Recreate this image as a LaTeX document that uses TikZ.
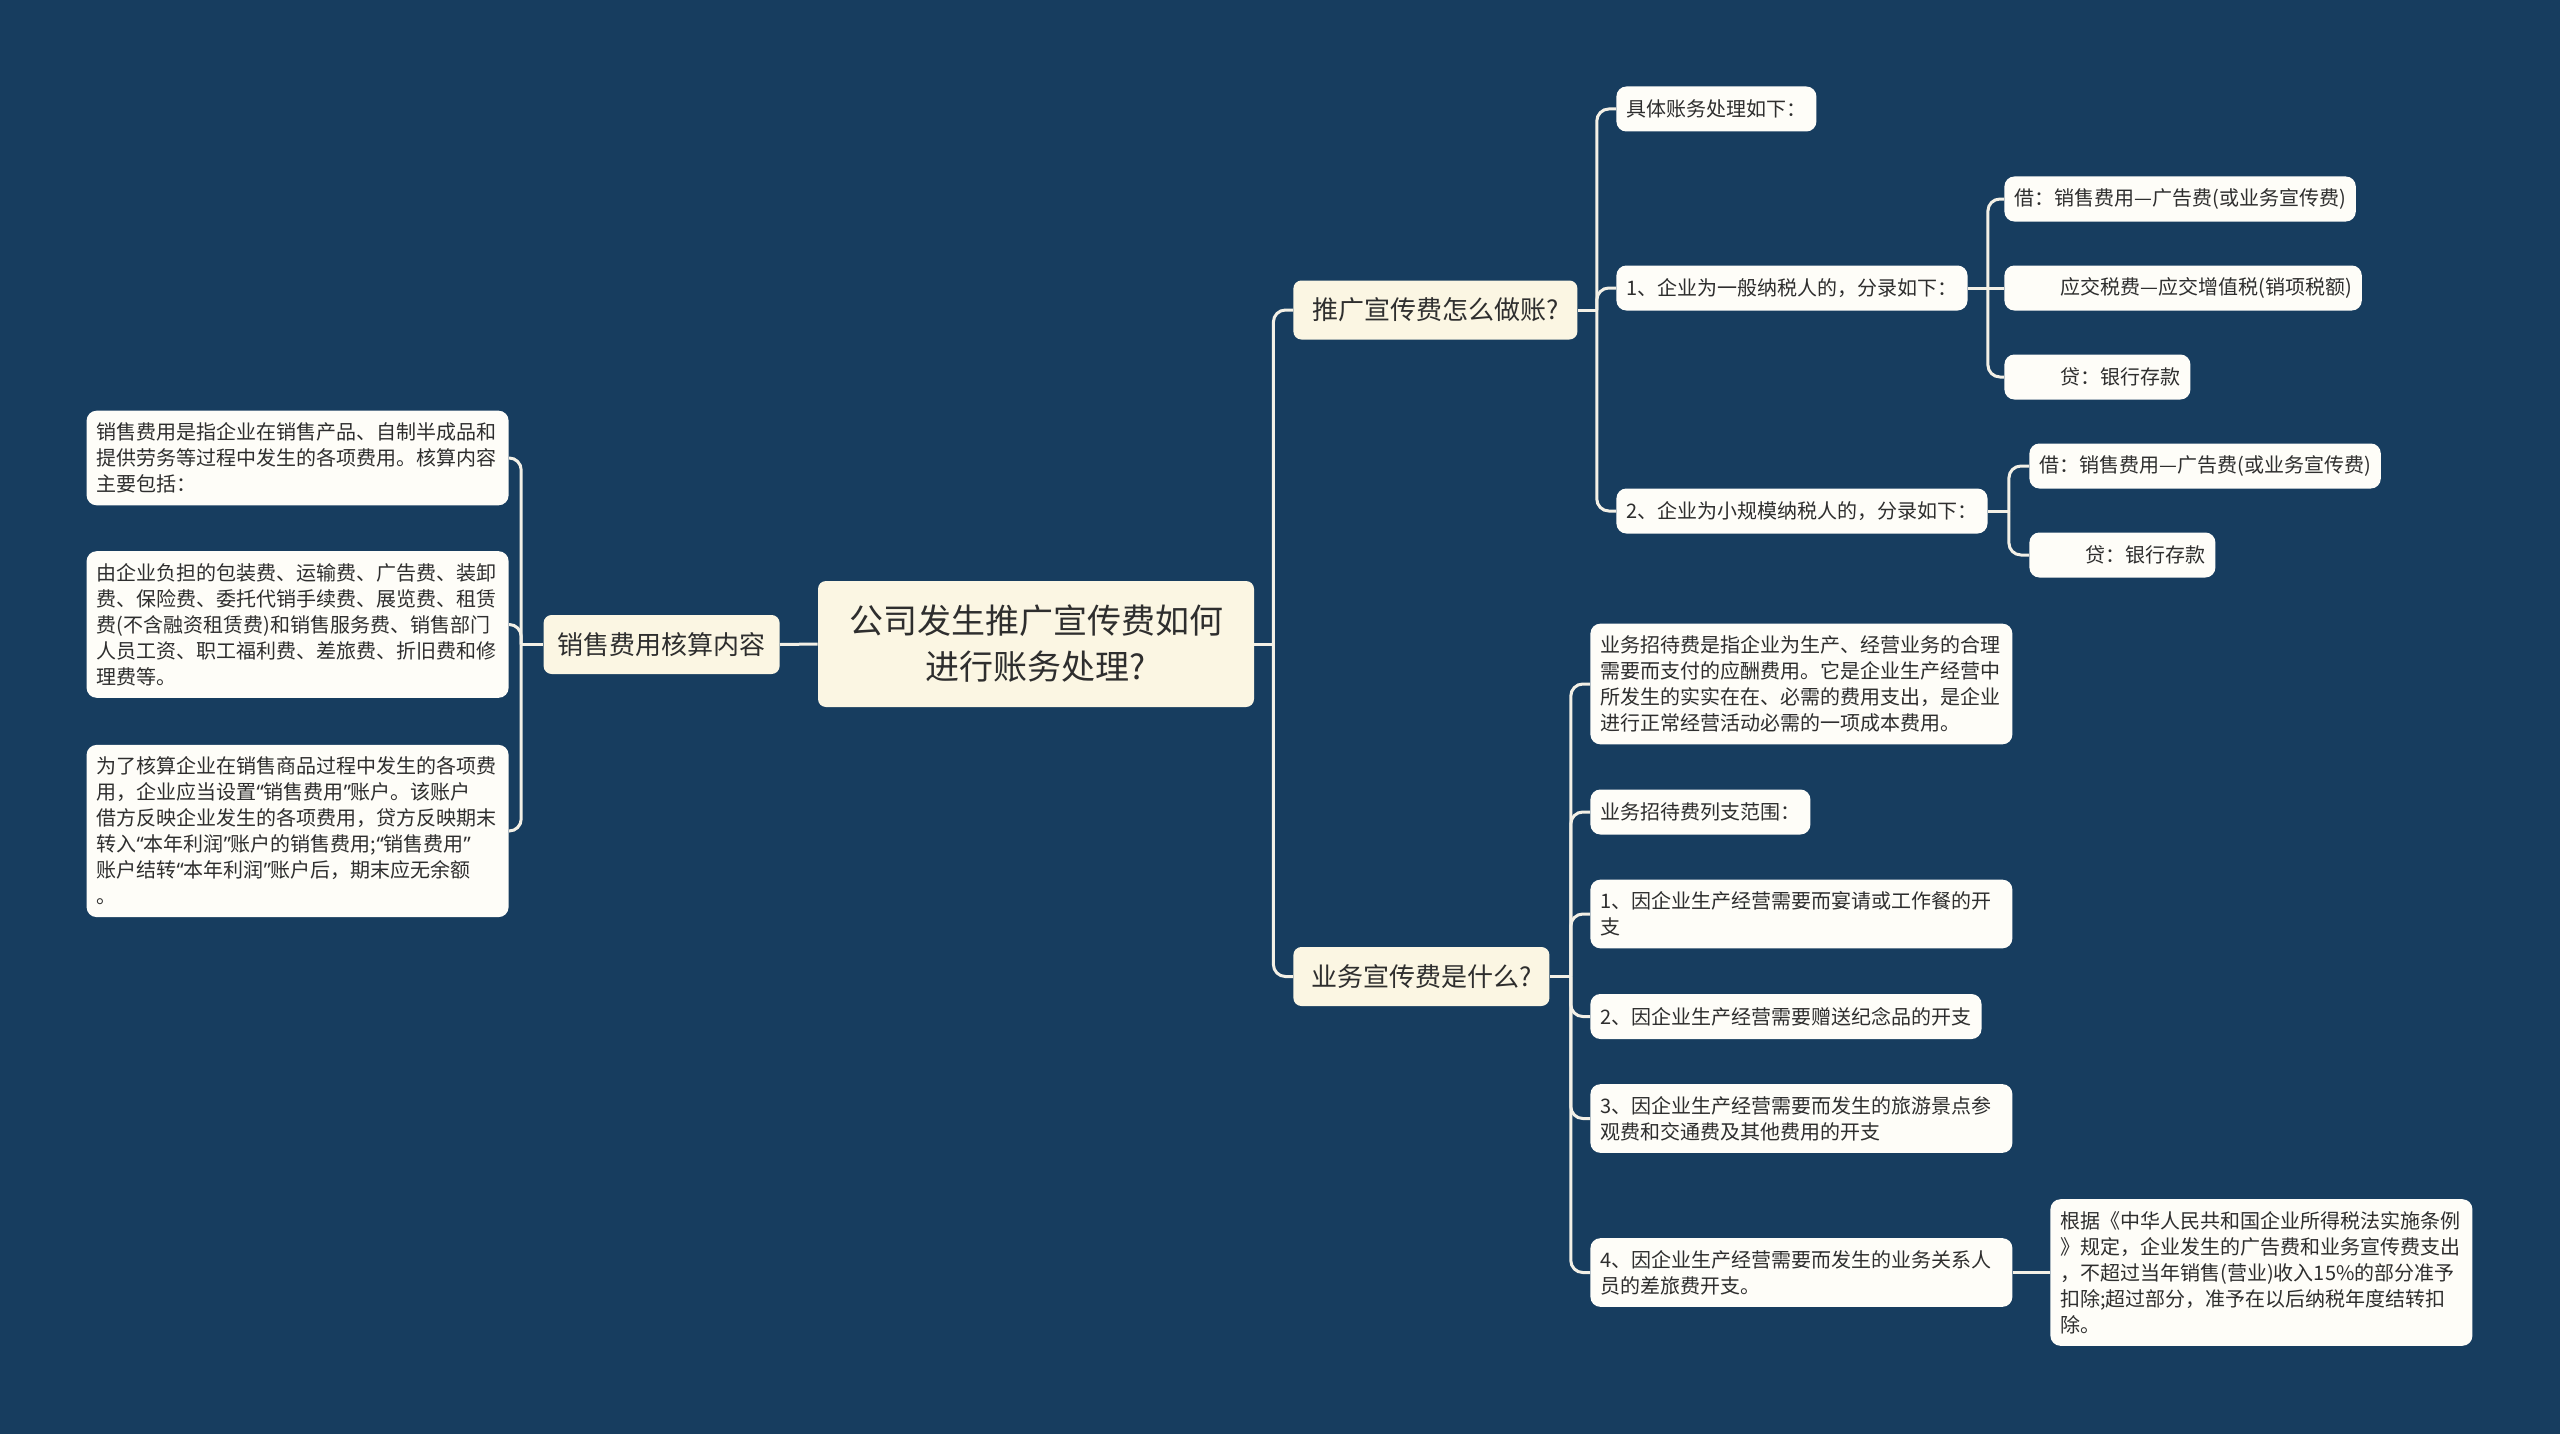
\documentclass[tikz,border=0pt]{standalone}
\usepackage{fontspec}
\setmainfont{Noto Sans CJK SC}
\newfontfamily\quotefont{Noto Sans}
\newcommand{\qo}{{\quotefont “}}
\newcommand{\qc}{{\quotefont ”}}
\usetikzlibrary{calc}
\definecolor{mapbg}{HTML}{173D5F}
\definecolor{topfill}{HTML}{FBF6E3}
\definecolor{leaffill}{HTML}{FEFDF8}
\definecolor{linkcol}{HTML}{F3F0E6}
\definecolor{txtcol}{HTML}{2E2E2E}
\tikzset{mmroot/.style={fill=topfill,rounded corners=4pt,text=txtcol,align=center,minimum width=218pt,minimum height=63pt,font=\fontsize{17pt}{23pt}\selectfont}}
\tikzset{mmbranch/.style={fill=topfill,rounded corners=4pt,text=txtcol,minimum height=29.5pt,inner xsep=7pt,font=\fontsize{13pt}{16pt}\selectfont}}
\tikzset{mmleaf/.style={fill=leaffill,rounded corners=5pt,text=txtcol,minimum height=22.5pt,inner xsep=5pt,inner ysep=6pt,font=\fontsize{10pt}{13pt}\selectfont}}
\tikzset{mmnote/.style={mmleaf,text width=201pt,align=left}}
\tikzset{mmlink/.style={draw=linkcol,line width=1.5pt,rounded corners=6pt}}

\begin{document}
\begin{tikzpicture}[x=0.5pt,y=-0.5pt]
    \fill[mapbg] (0,0) rectangle (2560,1434);

    % centre and left side
    \node[mmroot] (root) at (1036,644) {公司发生推广宣传费如何\\进行账务处理?};
    \node[mmbranch,anchor=east,minimum width=115.5pt] (sales) at (780,644.5) {销售费用核算内容};
    \node[mmnote,anchor=east] (sdef) at (509,458) {销售费用是指企业在销售产品、自制半成品和\\提供劳务等过程中发生的各项费用。核算内容\\主要包括：};
    \node[mmnote,anchor=east] (sitem) at (509,624.5) {由企业负担的包装费、运输费、广告费、装卸\\费、保险费、委托代销手续费、展览费、租赁\\费(不含融资租赁费)和销售服务费、销售部门\\人员工资、职工福利费、差旅费、折旧费和修\\理费等。};
    \node[mmnote,anchor=east] (sacct) at (509,831) {为了核算企业在销售商品过程中发生的各项费\\用，企业应当设置\qo 销售费用\qc 账户。该账户\\借方反映企业发生的各项费用，贷方反映期末\\转入\qo 本年利润\qc 账户的销售费用;\qo 销售费用\qc\\账户结转\qo 本年利润\qc 账户后，期末应无余额\\。};

    % upper right
    \node[mmbranch,anchor=west,minimum width=142pt] (promo) at (1293,310) {推广宣传费怎么做账?};
    \node[mmleaf,anchor=west] (acc) at (1616,109) {具体账务处理如下：};
    \node[mmleaf,anchor=west] (gen) at (1616,288) {1、企业为一般纳税人的，分录如下：};
    \node[mmleaf,anchor=west] (small) at (1616,511) {2、企业为小规模纳税人的，分录如下：};
    \node[mmleaf,anchor=west] (gdr) at (2004,199) {借：销售费用—广告费(或业务宣传费)};
    \node[mmleaf,anchor=west] (gtax) at (2004,288) {\hspace*{23pt}应交税费—应交增值税(销项税额)};
    \node[mmleaf,anchor=west] (gcr) at (2004,377) {\hspace*{23pt}贷：银行存款};
    \node[mmleaf,anchor=west] (sdr) at (2029,466) {借：销售费用—广告费(或业务宣传费)};
    \node[mmleaf,anchor=west] (scr) at (2029,555) {\hspace*{23pt}贷：银行存款};

    % lower right
    \node[mmbranch,anchor=west,minimum width=128pt] (biz) at (1293,976.5) {业务宣传费是什么?};
    \node[mmnote,anchor=west] (ent) at (1590,684) {业务招待费是指企业为生产、经营业务的合理\\需要而支付的应酬费用。它是企业生产经营中\\所发生的实实在在、必需的费用支出，是企业\\进行正常经营活动必需的一项成本费用。};
    \node[mmleaf,anchor=west] (range) at (1590,812) {业务招待费列支范围：};
    \node[mmnote,anchor=west] (meal) at (1590,914) {1、因企业生产经营需要而宴请或工作餐的开\\支};
    \node[mmleaf,anchor=west] (gift) at (1590,1016.5) {2、因企业生产经营需要赠送纪念品的开支};
    \node[mmnote,anchor=west] (tour) at (1590,1118.5) {3、因企业生产经营需要而发生的旅游景点参\\观费和交通费及其他费用的开支};
    \node[mmnote,anchor=west] (trip) at (1590,1272.5) {4、因企业生产经营需要而发生的业务关系人\\员的差旅费开支。};
    \node[mmnote,anchor=west] (law) at (2050,1272.5) {根据《中华人民共和国企业所得税法实施条例\\》规定，企业发生的广告费和业务宣传费支出\\，不超过当年销售(营业)收入15\%的部分准予\\扣除;超过部分，准予在以后纳税年度结转扣\\除。};

    \draw[mmlink] (root.west) -- (sales.east);
    \draw[mmlink] (sales.west) -- ++(-22,0) coordinate (sj);
    \draw[mmlink] (sj) |- (sdef.east);
    \draw[mmlink] (sj) |- (sitem.east);
    \draw[mmlink] (sj) |- (sacct.east);

    \draw[mmlink] (root.east) -- ++(19,0) coordinate (rj);
    \draw[mmlink] (rj) |- (promo.west);
    \draw[mmlink] (rj) |- (biz.west);

    \draw[mmlink] (promo.east) -- ++(19,0) coordinate (pj);
    \draw[mmlink] (pj) |- (acc.west);
    \draw[mmlink] (pj) |- (gen.west);
    \draw[mmlink] (pj) |- (small.west);

    \draw[mmlink] (gen.east) -- ++(20,0) coordinate (gj);
    \draw[mmlink] (gj) |- (gdr.west);
    \draw[mmlink] (gj) -- (gtax.west);
    \draw[mmlink] (gj) |- (gcr.west);

    \draw[mmlink] (small.east) -- ++(21,0) coordinate (mj);
    \draw[mmlink] (mj) |- (sdr.west);
    \draw[mmlink] (mj) |- (scr.west);

    \draw[mmlink] (biz.east) -- ++(21,0) coordinate (bj);
    \draw[mmlink] (bj) |- (ent.west);
    \draw[mmlink] (bj) |- (range.west);
    \draw[mmlink] (bj) |- (meal.west);
    \draw[mmlink] (bj) |- (gift.west);
    \draw[mmlink] (bj) |- (tour.west);
    \draw[mmlink] (bj) |- (trip.west);
    \draw[mmlink] (trip.east) -- (law.west);
\end{tikzpicture}
\end{document}
